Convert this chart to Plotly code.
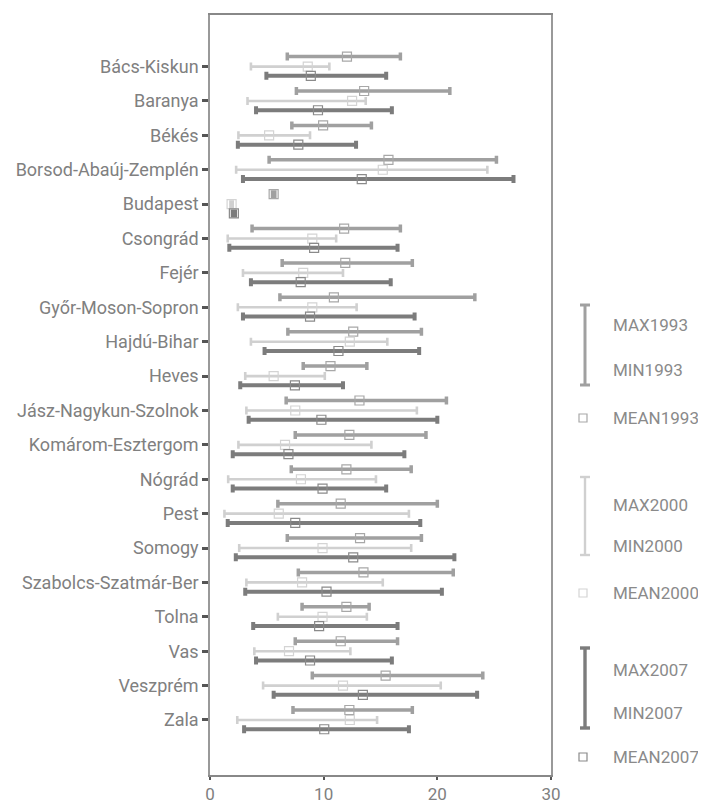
import plotly.graph_objects as go

counties = ["Bács-Kiskun", "Baranya", "Békés", "Borsod-Abaúj-Zemplén", "Budapest",
            "Csongrád", "Fejér", "Győr-Moson-Sopron", "Hajdú-Bihar", "Heves",
            "Jász-Nagykun-Szolnok", "Komárom-Esztergom", "Nógrád", "Pest", "Somogy",
            "Szabolcs-Szatmár-Ber", "Tolna", "Vas", "Veszprém", "Zala"]

min1993 = [6.8, 7.6, 7.2, 5.2, 5.5, 3.7, 6.35, 6.15, 6.85, 8.2, 6.7, 7.5, 7.15, 5.97, 6.8, 7.77, 8.1, 7.5, 9.0, 7.3]
max1993 = [16.75, 21.1, 14.2, 25.2, 5.7, 16.75, 17.8, 23.3, 18.6, 13.8, 20.8, 19.0, 17.7, 20.0, 18.6, 21.4, 14.0, 16.5, 24.0, 17.8]
mean1993 = [12.05, 13.56, 9.95, 15.7, 5.6, 11.8, 11.9, 10.9, 12.6, 10.6, 13.15, 12.26, 12.0, 11.5, 13.2, 13.5, 12.0, 11.5, 15.45, 12.26]

min2000 = [3.6, 3.3, 2.5, 2.3, 1.8, 1.56, 2.9, 2.45, 3.6, 3.1, 3.2, 2.5, 1.6, 1.27, 2.57, 3.2, 5.97, 3.9, 4.67, 2.4]
max2000 = [10.5, 13.7, 8.8, 24.4, 2.0, 11.1, 11.7, 12.9, 15.6, 10.1, 18.2, 14.2, 14.6, 17.5, 17.7, 15.2, 13.8, 12.35, 20.3, 14.7]
mean2000 = [8.6, 12.5, 5.2, 15.2, 1.9, 9.0, 8.2, 9.0, 12.3, 5.6, 7.5, 6.6, 8.0, 6.05, 9.9, 8.1, 9.9, 6.95, 11.7, 12.3]

min2007 = [4.96, 4.05, 2.45, 2.9, 2.0, 1.7, 3.6, 2.9, 4.8, 2.66, 3.4, 2.0, 2.0, 1.56, 2.27, 3.1, 3.8, 4.05, 5.6, 3.0]
max2007 = [15.5, 16.0, 12.85, 26.7, 2.2, 16.5, 15.9, 18.0, 18.4, 11.7, 20.0, 17.1, 15.5, 18.5, 21.5, 20.4, 16.5, 16.0, 23.5, 17.5]
mean2007 = [8.87, 9.5, 7.77, 13.35, 2.1, 9.16, 7.98, 8.8, 11.3, 7.47, 9.8, 6.9, 9.9, 7.5, 12.6, 10.25, 9.6, 8.8, 13.45, 10.05]

xticks = [0, 10, 20, 30]

series = [
    ("1993", min1993, max1993, mean1993, -0.29, "#a0a0a0", "#a8a8a8", 3.5),
    ("2000", min2000, max2000, mean2000, 0.0, "#d0d0d0", "#d4d4d4", 2.6),
    ("2007", min2007, max2007, mean2007, 0.27, "#7c7c7c", "#8a8a8a", 4.0),
]

FONT = "Roboto, Liberation Sans, sans-serif"

fig = go.Figure()
for name, mn, mx, me, off, col, mcol, th in series:
    ys = [i + off for i in range(len(counties))]
    fig.add_trace(go.Scatter(
        x=me, y=ys, mode="markers",
        marker=dict(symbol="square-open", size=9, color=mcol, line=dict(width=1.2)),
        error_x=dict(type="data", symmetric=False,
                     array=[b - m for b, m in zip(mx, me)],
                     arrayminus=[m - a for a, m in zip(mn, me)],
                     color=col, thickness=th, width=4),
        showlegend=False, name=name,
    ))

# page offset of 8px (body margin); reference plot area in page pixels: x 210..551, y 15..775
OFF = 8
L, R, T, B = 210, 551, 15, 775
W, H = 706 - OFF, 806 - OFF
def px(xp):
    return (xp - L) / (R - L)
def py(yp):
    return (B - yp) / (B - T)

shapes = []
annotations = []
legend = [
    ("1993", "#a0a0a0", "#a8a8a8", 3.0, 305, 385, 325, 370, 418),
    ("2000", "#d0d0d0", "#d4d4d4", 2.4, 477, 555, 505, 546, 593),
    ("2007", "#7c7c7c", "#8a8a8a", 3.4, 648, 728, 670, 713, 757),
]
for yr, col, mcol, th, top, bot, ymax, ymin, ymean in legend:
    shapes.append(dict(type="line", xref="paper", yref="paper", x0=px(585), x1=px(585),
                       y0=py(top), y1=py(bot), line=dict(color=col, width=th)))
    for yy in (top, bot):
        shapes.append(dict(type="line", xref="paper", yref="paper", x0=px(580), x1=px(590),
                           y0=py(yy), y1=py(yy), line=dict(color=col, width=th)))
    shapes.append(dict(type="rect", xref="paper", yref="paper", x0=px(579), x1=px(587),
                       y0=py(ymean + 4), y1=py(ymean - 4), line=dict(color=mcol, width=1.2)))
    for txt, yy in (("MAX" + yr, ymax), ("MIN" + yr, ymin), ("MEAN" + yr, ymean)):
        annotations.append(dict(text=txt, xref="paper", yref="paper", x=px(611), y=py(yy),
                                xanchor="left", yanchor="middle", showarrow=False,
                                font=dict(family=FONT, size=17, color="#8a8a8a")))

fig.update_layout(
    width=W, height=H,
    margin=dict(l=L - OFF, r=W - (R - OFF), t=T - OFF, b=H - (B - OFF), pad=0),
    plot_bgcolor="white", paper_bgcolor="white",
    shapes=shapes, annotations=annotations,
    font=dict(family=FONT, size=18, color="#808080"),
)
fig.update_xaxes(range=[0, 30], tickvals=xticks, ticks="outside", ticklen=3, tickwidth=2,
                 tickcolor="#555", showline=True, linecolor="#888", linewidth=1.5, mirror=True,
                 showgrid=False, zeroline=False, automargin=False,
                 tickfont=dict(size=17, color="#808080"))
fig.update_yaxes(range=[20.6, -1.5], tickvals=list(range(len(counties))), ticktext=counties,
                 ticks="outside", ticklen=6, tickwidth=3, tickcolor="#555",
                 showline=True, linecolor="#999", linewidth=1.5, mirror=True,
                 showgrid=False, zeroline=False, automargin=False,
                 tickfont=dict(size=18, color="#808080"))

fig.write_html("out.html")
